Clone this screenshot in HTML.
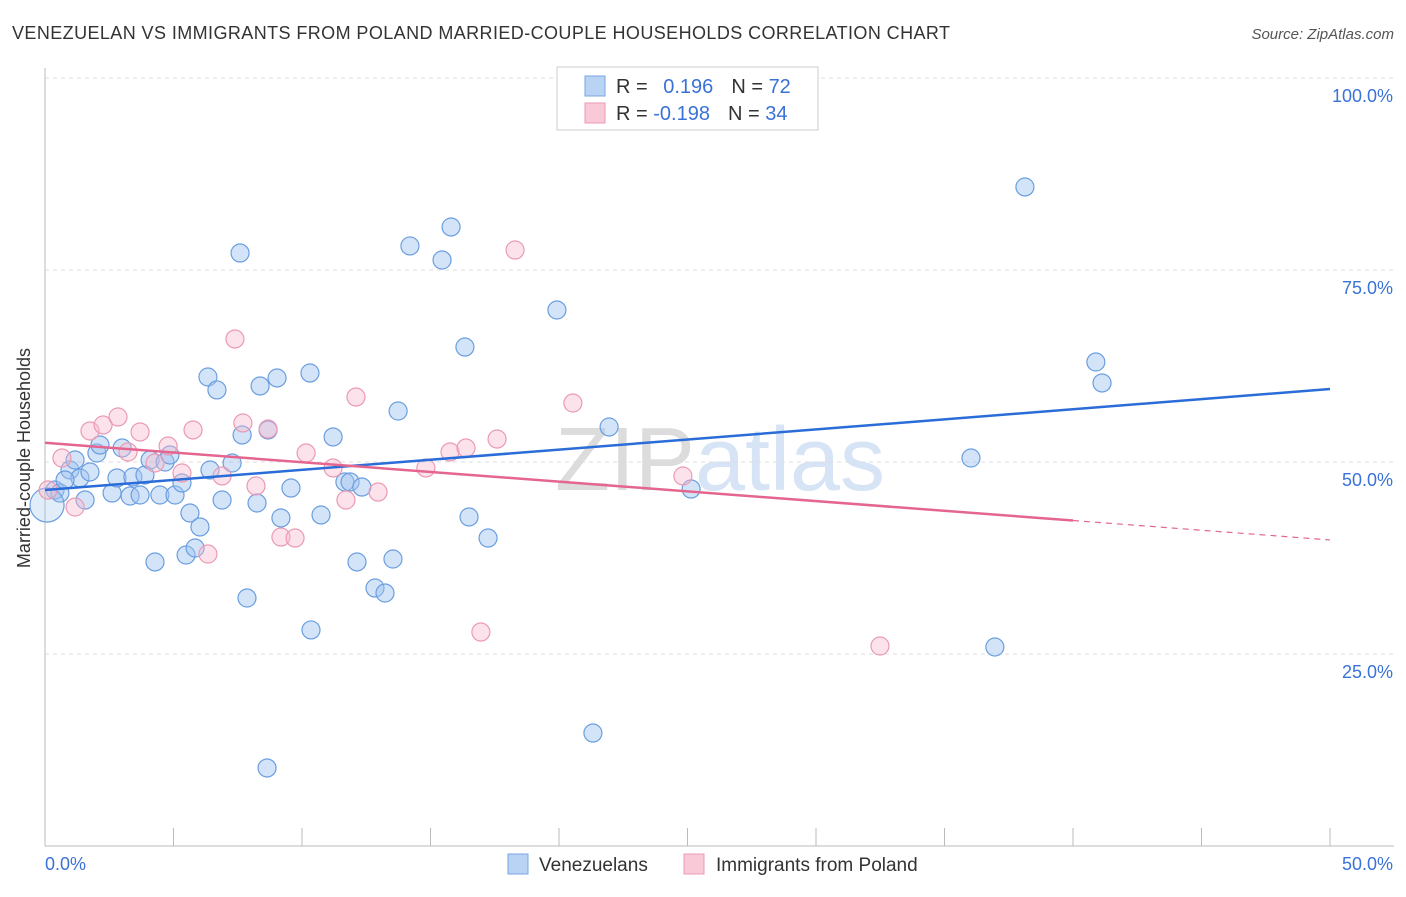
<!DOCTYPE html>
<html><head><meta charset="utf-8"><style>
body{margin:0;background:#fff;font-family:"Liberation Sans",sans-serif;}
svg text{font-family:"Liberation Sans",sans-serif;}
</style></head><body>
<svg width="1406" height="892" viewBox="0 0 1406 892" id="chart">
<text x="12" y="39" font-size="18" fill="#333" textLength="938" lengthAdjust="spacing">VENEZUELAN VS IMMIGRANTS FROM POLAND MARRIED-COUPLE HOUSEHOLDS CORRELATION CHART</text>
<text x="1394" y="39" font-size="15" fill="#555" text-anchor="end" font-style="italic">Source: ZipAtlas.com</text>
<text x="30" y="458" font-size="18" fill="#333" text-anchor="middle" transform="rotate(-90 30 458)">Married-couple Households</text>
<text x="720" y="490" font-size="90" fill="#e5e5e5" text-anchor="middle" font-family="Liberation Serif"><tspan fill="#dcdcdc">ZIP</tspan><tspan fill="#d6e4f5">atlas</tspan></text>
<g id="grid"></g><g id="axes"></g><g id="pts"></g><g id="lines"></g>
<g>
<rect x="557" y="67" width="261" height="63" fill="#fff" stroke="#ccc"/>
<rect x="585" y="76" width="20" height="20" fill="#b9d3f5" stroke="#7aa5e0"/>
<rect x="585" y="103" width="20" height="20" fill="#f9c9d8" stroke="#eb9ab4"/>
<text x="616" y="93" font-size="20" fill="#333">R = <tspan fill="#3a72d8" dx="10">0.196</tspan><tspan dx="18" fill="#333">N = </tspan><tspan fill="#3a72d8">72</tspan></text>
<text x="616" y="120" font-size="20" fill="#333">R = <tspan fill="#3a72d8">-0.198</tspan><tspan dx="18" fill="#333">N = </tspan><tspan fill="#3a72d8">34</tspan></text>
</g>
<g>
<rect x="508" y="854" width="20" height="20" fill="#b9d3f5" stroke="#7aa5e0"/>
<text x="539" y="871" font-size="19" fill="#333">Venezuelans</text>
<rect x="684" y="854" width="20" height="20" fill="#f9c9d8" stroke="#eb9ab4"/>
<text x="716" y="871" font-size="19" fill="#333">Immigrants from Poland</text>
</g>
</svg>
<script>
const blueX=[0.39,0.58,0.97,1.17,1.36,1.75,2.02,2.14,1.56,2.61,2.80,3.00,3.31,3.42,3.70,3.89,4.09,4.28,4.47,4.67,4.86,5.06,5.33,5.49,5.64,5.84,6.03,6.34,6.42,6.69,6.89,7.28,7.59,7.67,7.86,8.25,8.37,8.64,8.68,9.03,9.18,9.57,10.31,10.35,10.74,11.21,11.67,11.87,12.14,12.33,12.84,13.23,13.54,13.74,14.20,15.45,15.80,16.34,16.50,17.24,19.92,21.32,21.95,25.14,36.03,36.96,38.13,40.89,41.13,0.08,0.78];
const blueY=[46.35,45.96,48.96,50.26,47.92,48.70,51.17,52.21,45.05,45.96,47.92,51.82,45.57,48.05,45.70,48.31,50.26,36.98,45.70,50.00,50.91,45.70,47.27,37.89,43.36,38.80,41.54,61.07,48.96,59.38,45.05,49.87,77.21,53.52,32.29,44.66,59.90,10.16,54.17,60.94,42.71,46.61,61.59,28.13,43.10,53.26,47.40,47.40,36.98,46.74,33.59,32.94,37.37,56.64,78.13,76.30,80.60,64.97,42.84,40.10,69.79,14.71,54.56,46.48,50.52,25.91,85.81,63.02,60.29,44.40,47.66];
const pinkX=[0.12,0.66,1.17,1.75,2.26,2.84,3.23,3.70,4.28,4.79,5.33,5.76,6.34,6.89,7.39,7.70,8.21,8.68,9.18,9.73,10.16,11.21,11.71,12.10,12.96,14.82,15.76,16.38,16.96,17.59,18.29,20.54,24.82,32.49];
const pinkY=[46.35,50.52,44.14,54.04,54.82,55.86,51.30,53.91,49.87,52.08,48.57,54.17,38.02,48.18,66.02,55.08,46.88,54.30,40.23,40.10,51.17,49.22,45.05,58.46,46.09,49.22,51.30,51.82,27.86,52.99,77.60,57.68,48.18,26.04];
const blueLine=[46.35,59.5];
const pinkLine=[52.5,39.85];
const yTicks=[25,50,75,100];
const X=v=>45+v*25.7, Y=v=>846-v*7.68;
const NS='http://www.w3.org/2000/svg';
function mk(t,a,p){const e=document.createElementNS(NS,t);for(const k in a)e.setAttribute(k,a[k]);document.getElementById(p).appendChild(e);return e;}
yTicks.forEach(t=>{
 const l=mk('line',{x1:45,x2:1394,y1:Y(t),y2:Y(t),stroke:'#ddd','stroke-dasharray':'4,4'},'grid');
 
 
 const tx=mk('text',{x:1393,y:Y(t)+24,'font-size':18,fill:'#3a72d8','text-anchor':'end'},'grid');
 tx.textContent=t.toFixed(1)+'%';
 
 
});
mk('line',{x1:45,x2:45,y1:68,y2:846,stroke:'#bbb'},'axes');
mk('line',{x1:45,x2:1394,y1:846,y2:846,stroke:'#bbb'},'axes');
for(let i=0;i<=10;i++){const l=mk('line',{x1:45+i*128.5,x2:45+i*128.5,y1:828,y2:846,stroke:'#bbb'},'axes');
 
 }
const x0=mk('text',{x:45,y:870,'font-size':18,fill:'#3a72d8'},'axes');x0.textContent='0.0%';


const x1=mk('text',{x:1393,y:870,'font-size':18,fill:'#3a72d8','text-anchor':'end'},'axes');x1.textContent='50.0%';


blueX.forEach((v,i)=>{const c=mk('circle',{cx:X(v),cy:Y(blueY[i]),r:i==69?17:9,fill:i==69?'rgba(160,195,240,0.3)':'rgba(160,195,240,0.45)',stroke:'#6a9ee0','stroke-width':1.2},'pts');
 
 });
pinkX.forEach((v,i)=>{const c=mk('circle',{cx:X(v),cy:Y(pinkY[i]),r:9,fill:'rgba(248,185,205,0.4)',stroke:'#eb9ab4','stroke-width':1.2},'pts');
 
 });
const bl=mk('line',{x1:X(0),y1:Y(blueLine[0]),x2:X(50),y2:Y(blueLine[1]),stroke:'#2a6dd8','stroke-width':2.5},'lines');


const pm=40, py=pinkLine[0]+(pinkLine[1]-pinkLine[0])*pm/50;
const pl=mk('line',{x1:X(0),y1:Y(pinkLine[0]),x2:X(pm),y2:Y(py),stroke:'#e4668f','stroke-width':2.5},'lines');


const pd=mk('line',{x1:X(pm),y1:Y(py),x2:X(50),y2:Y(pinkLine[1]),stroke:'#e4668f','stroke-width':1.2,'stroke-dasharray':'6,5'},'lines');


</script>
</body></html>
